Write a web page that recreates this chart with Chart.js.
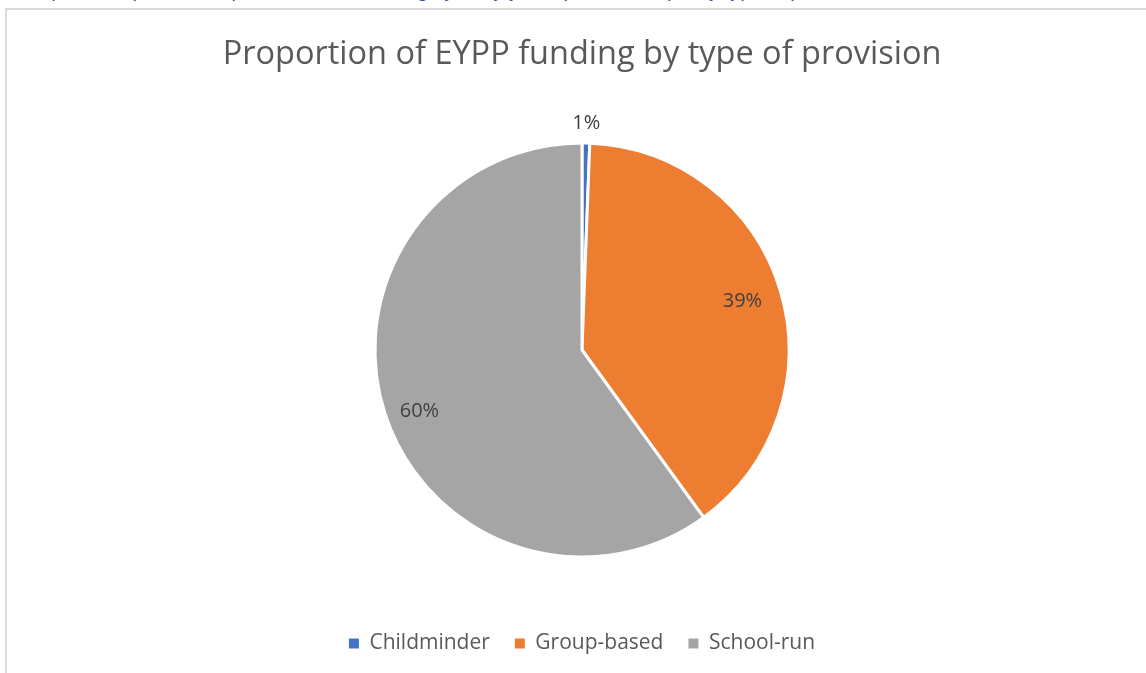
<!DOCTYPE html>
<html>
<head>
<meta charset="utf-8">
<script src="https://cdn.jsdelivr.net/npm/chart.js@4/dist/chart.umd.min.js"></script>
<style>
  html, body { margin: 0; padding: 0; background: #fff; overflow: hidden; }
  body { width: 1146px; height: 673px; position: relative; }
  #caption {
    position: absolute; left: 18px; top: -21px; white-space: nowrap;
    font: 20px "Liberation Sans", Arial, sans-serif; color: #2F5597;
  }
  #box {
    position: absolute; left: 5px; top: 8px; width: 1150px; height: 680px;
    border: 2px solid #d9d9d9; box-sizing: border-box; background: #fff;
  }
  #wrap { position: absolute; left: 7px; top: 10px; width: 1139px; height: 663px; }
</style>
</head>
<body>
<div id="caption">Graph 7: Proportion of spend of EYPP funding by early years providers, split by type of provision</div>
<div id="box"></div>
<div id="wrap"><canvas id="pie"></canvas></div>
<script>
/* Proportion of EYPP funding by type of provision */

var CATEGORIES = ["Childminder", "Group-based", "School-run"];
var SHARES = [0.6, 39.4, 60.0];
var SLICE_COLORS = ["#4472C4", "#ED7D31", "#A5A5A5"];
var LABEL_TEXT = ["1%", "39%", "60%"];

var FONT = "'Open Sans', 'Segoe UI', sans-serif";

// simple label plugin: text on each slice (radius factor + small angle nudge per slice)
var sliceLabels = {
  id: "sliceLabels",
  afterDatasetsDraw: function(chart, args, opts) {
    var ctx = chart.ctx;
    var meta = chart.getDatasetMeta(0);
    ctx.save();
    ctx.font = "20px " + FONT;
    ctx.fillStyle = "#404040";
    ctx.textAlign = "center";
    ctx.textBaseline = "middle";
    meta.data.forEach(function(arc, i) {
      var p = arc.getProps(["x", "y", "startAngle", "endAngle", "outerRadius"], true);
      var mid = (p.startAngle + p.endAngle) / 2 + (opts.nudge[i] || 0) * Math.PI / 180;
      var r = p.outerRadius * opts.radius[i];
      ctx.fillText(LABEL_TEXT[i], p.x + Math.cos(mid) * r, p.y + Math.sin(mid) * r);
    });
    ctx.restore();
  }
};

new Chart(document.getElementById("pie"), {
  type: "pie",
  data: {
    labels: CATEGORIES,
    datasets: [{
      data: SHARES,
      backgroundColor: SLICE_COLORS,
      borderColor: "#FFFFFF",
      borderWidth: 3
    }]
  },
  options: {
    responsive: true,
    maintainAspectRatio: false,
    animation: false,
    radius: 207,
    layout: { padding: { left: 11, right: 0, top: 0, bottom: 9 } },
    plugins: {
      title: {
        display: true,
        text: "Proportion of EYPP funding by type of provision",
        color: "#595959",
        font: { family: FONT, size: 32.5, weight: "normal" },
        padding: { top: 25, bottom: 18 }
      },
      legend: {
        position: "bottom",
        labels: {
          color: "#595959",
          font: { family: FONT, size: 21 },
          boxWidth: 10,
          boxHeight: 10,
          padding: 25,
          generateLabels: function(chart) {
            return Chart.overrides.pie.plugins.legend.labels.generateLabels(chart).map(function(l) {
              l.lineWidth = 0;
              l.strokeStyle = l.fillStyle;
              return l;
            });
          }
        }
      },
      sliceLabels: {
        radius: [1.095, 0.81, 0.84],
        nudge: [0, 0, -2.8]
      },
      tooltip: { enabled: false }
    }
  },
  plugins: [sliceLabels]
});
</script>
</body>
</html>
